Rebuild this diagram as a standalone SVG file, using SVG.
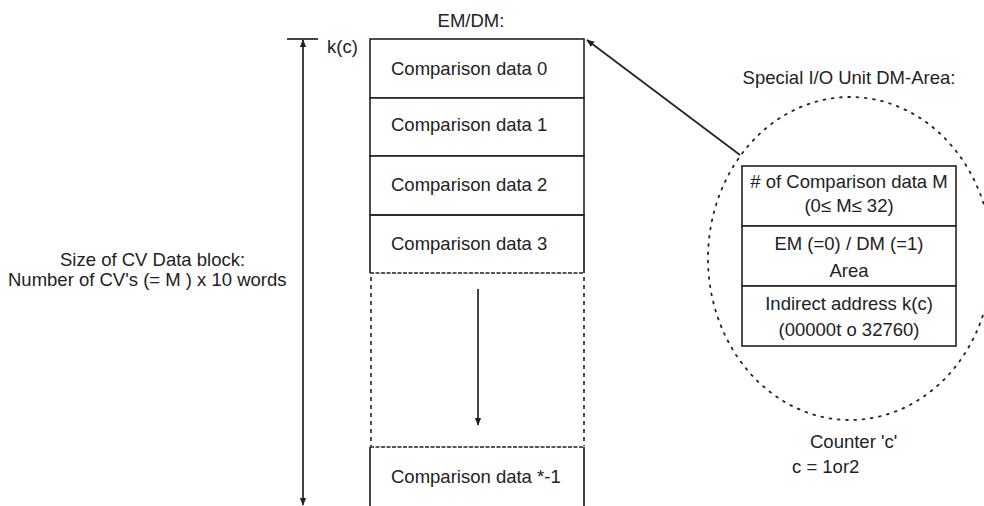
<svg xmlns="http://www.w3.org/2000/svg" width="984" height="506" viewBox="0 0 984 506">
<defs>
<style>
text{font-family:"Liberation Sans",Arial,sans-serif;font-size:18.5px;fill:#222}
.c{text-anchor:middle}
.box{fill:#fff;stroke:#222;stroke-width:1.6}
.ln{stroke:#222;stroke-width:1.7;fill:none}
.dash{stroke:#222;stroke-width:1.6;fill:none;stroke-dasharray:4 4}
.fine{stroke:#222;stroke-width:1.6;fill:none;stroke-dasharray:4 1.5}
</style>
<marker id="ah" viewBox="0 0 10 10" refX="9" refY="5" markerWidth="8" markerHeight="8" orient="auto-start-reverse" markerUnits="userSpaceOnUse">
<path d="M0,1 L10,5 L0,9 Z" fill="#222"/>
</marker>
</defs>
<rect width="984" height="506" fill="#fff"/>

<g id="title-emdm"><text x="471" y="27" class="c">EM/DM:</text></g>
<g id="kc"><text x="327" y="53">k(c)</text></g>

<g id="size-label">
<text x="60" y="266">Size of CV Data block:</text>
<text x="8" y="286">Number of CV's (= M ) x 10 words</text>
</g>

<g id="row0"><rect class="box" x="370" y="39" width="214" height="59"/><text x="391" y="75">Comparison data 0</text></g>
<g id="row1"><rect class="box" x="370" y="98" width="214" height="58"/><text x="391" y="131">Comparison data 1</text></g>
<g id="row2"><rect class="box" x="370" y="156" width="214" height="59"/><text x="391" y="191">Comparison data 2</text></g>
<g id="row3"><path class="ln" d="M370,273 V215 H584 V273"/><line class="fine" x1="370" y1="273" x2="584" y2="273"/><text x="391" y="250">Comparison data 3</text></g>
<g id="gap">
<line class="dash" x1="371" y1="277" x2="371" y2="446"/>
<line class="dash" x1="584" y1="277" x2="584" y2="446"/>
</g>
<g id="rowlast"><path class="ln" d="M370,447 V510 M584,447 V510"/><line class="fine" x1="370" y1="447" x2="584" y2="447"/><text x="391" y="483">Comparison data *-1</text></g>

<g id="dm-area">
<text x="849" y="84" class="c">Special I/O Unit DM-Area:</text>
<ellipse cx="850" cy="258.5" rx="142" ry="161.5" fill="none" stroke="#222" stroke-width="1.8" stroke-dasharray="1.8 6.5" stroke-linecap="round"/>
</g>
<g id="tbl-m"><rect class="box" x="742" y="166" width="214" height="60"/><text x="849" y="188" class="c"># of Comparison data M</text><text x="849" y="212" class="c">(0≤ M≤ 32)</text></g>
<g id="tbl-area"><rect class="box" x="742" y="226" width="214" height="60"/><text x="849" y="250" class="c">EM (=0) / DM (=1)</text><text x="849" y="277" class="c">Area</text></g>
<g id="tbl-addr"><rect class="box" x="742" y="286" width="214" height="60"/><text x="849" y="310" class="c">Indirect address k(c)</text><text x="849" y="336" class="c">(00000t o 32760)</text></g>
<g id="counter"><text x="810" y="448">Counter  'c'</text><text x="792" y="473">c = 1or2</text></g>

<g id="connectors">
<line class="ln" x1="287" y1="39" x2="318" y2="39"/>
<line class="ln" x1="303" y1="40" x2="303" y2="505" marker-start="url(#ah)" marker-end="url(#ah)"/>
<line class="ln" x1="478" y1="289" x2="478" y2="425" marker-end="url(#ah)"/>
<line class="ln" x1="740" y1="155" x2="587" y2="40" marker-end="url(#ah)"/>
</g>
</svg>
